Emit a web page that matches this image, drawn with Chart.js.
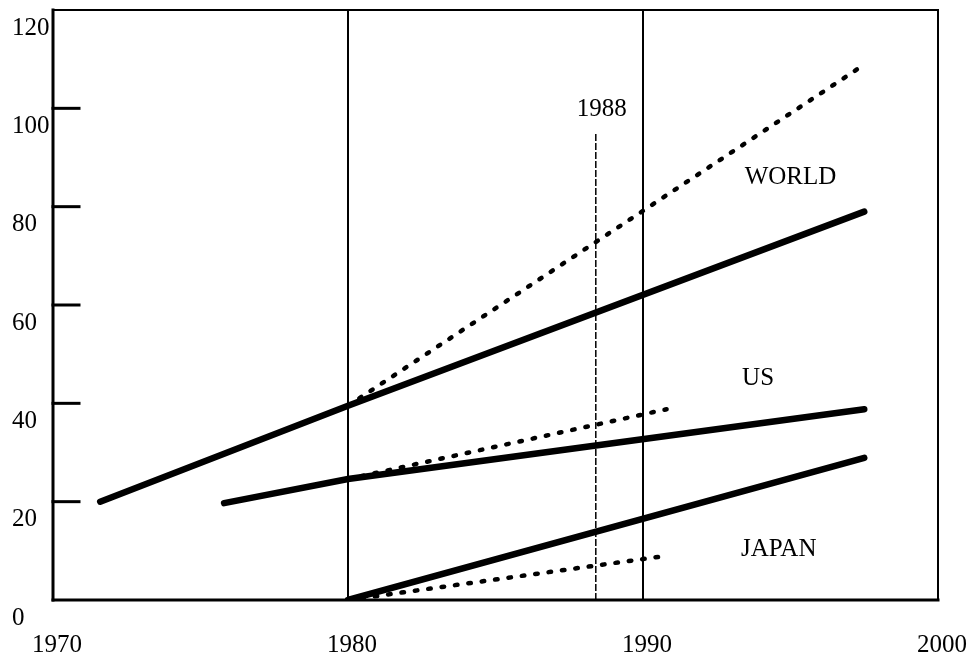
<!DOCTYPE html>
<html>
<head>
<meta charset="utf-8">
<script src="https://cdn.jsdelivr.net/npm/chart.js@4/dist/chart.umd.min.js"></script>
<style>
  html, body { margin: 0; padding: 0; background: #fff; }
  #wrap { width: 972px; height: 667px; }
</style>
</head>
<body>
<div id="wrap"><canvas id="chart"></canvas></div>
<script>
// values (x = year, y = index)
const worldYears = [1971.6, 1980, 1997.5];
const worldValues = [20, 39.5, 79];
const worldTrendYears = [1980, 1997.4];
const worldTrendValues = [39.5, 108.5];

const usYears = [1975.8, 1980, 1997.5];
const usValues = [19.7, 24.6, 38.8];
const usTrendYears = [1980, 1990.8];
const usTrendValues = [24.6, 38.8];

const japanYears = [1980, 1997.5];
const japanValues = [0, 28.9];
const japanTrendYears = [1980, 1990.8];
const japanTrendValues = [0, 9];

const markerYears = [1980, 1990];
const year1988 = 1988.4;
const year1988Top = 95;

const xTicks = [1970, 1980, 1990, 2000];
const yTicks = [0, 20, 40, 60, 80, 100, 120];

const textLabels = [
  { text: "WORLD", x: 1995.0, y: 86 },
  { text: "US", x: 1993.9, y: 45 },
  { text: "JAPAN", x: 1994.6, y: 10.2 },
  { text: "1988", x: 1988.6, y: 99.7 },
];

const FONT = "'Liberation Serif', 'Times New Roman', serif";

const toPoints = (xs, ys) => xs.map((x, i) => ({ x, y: ys[i] }));

const solid = (xs, ys) => ({
  data: toPoints(xs, ys),
  borderColor: "#000",
  borderWidth: 6.5,
  borderCapStyle: "round",
  pointRadius: 0,
  showLine: true,
});

const dotted = (xs, ys) => ({
  data: toPoints(xs, ys),
  borderColor: "#000",
  borderWidth: 4.5,
  borderDash: [2.5, 11],
  borderCapStyle: "round",
  pointRadius: 0,
  showLine: true,
});

const datasets = [
  ...markerYears.map((yr) => ({
    data: [{ x: yr, y: 0 }, { x: yr, y: 120 }],
    borderColor: "#000",
    borderWidth: 2,
    pointRadius: 0,
    showLine: true,
  })),
  {
    data: [{ x: year1988, y: 0 }, { x: year1988, y: year1988Top }],
    borderColor: "#000",
    borderWidth: 1.5,
    borderDash: [7, 2],
    pointRadius: 0,
    showLine: true,
  },
  dotted(worldTrendYears, worldTrendValues),
  dotted(usTrendYears, usTrendValues),
  dotted(japanTrendYears, japanTrendValues),
  solid(worldYears, worldValues),
  solid(usYears, usValues),
  solid(japanYears, japanValues),
];

// frame, inward y ticks and the text labels
const framePlugin = {
  id: "frame",
  afterDatasetsDraw(chart) {
    const { ctx, chartArea: a, scales } = chart;
    ctx.save();
    ctx.strokeStyle = "#000";
    ctx.lineCap = "square";
    const line = (x1, y1, x2, y2, w) => {
      ctx.lineWidth = w;
      ctx.beginPath();
      ctx.moveTo(x1, y1);
      ctx.lineTo(x2, y2);
      ctx.stroke();
    };
    line(a.left, a.top, a.right, a.top, 2);
    line(a.right, a.top, a.right, a.bottom, 2);
    line(a.left, a.top, a.left, a.bottom, 3);
    line(a.left, a.bottom, a.right, a.bottom, 3);
    yTicks.slice(1, -1).forEach((v) => {
      const py = scales.y.getPixelForValue(v);
      line(a.left, py, a.left + 26, py, 3);
    });
    ctx.fillStyle = "#000";
    ctx.font = "25px " + FONT;
    ctx.textAlign = "center";
    ctx.textBaseline = "middle";
    textLabels.forEach((l) => {
      ctx.fillText(l.text, scales.x.getPixelForValue(l.x), scales.y.getPixelForValue(l.y));
    });
    ctx.restore();
  },
};

const noPad = (s) => {
  s.paddingLeft = 0;
  s.paddingRight = 0;
  s.paddingTop = 0;
  s.paddingBottom = 0;
};

new Chart(document.getElementById("chart"), {
  type: "scatter",
  data: { datasets },
  options: {
    responsive: true,
    maintainAspectRatio: false,
    animation: false,
    layout: { padding: { top: 10, right: 34, left: 12, bottom: 0 } },
    plugins: { legend: { display: false }, tooltip: { enabled: false } },
    scales: {
      x: {
        type: "linear",
        min: 1970,
        max: 2000,
        afterBuildTicks: (s) => { s.ticks = xTicks.map((v) => ({ value: v })); },
        ticks: {
          color: "#000",
          font: { family: FONT, size: 25 },
          labelOffset: 4,
          padding: 22,
          maxRotation: 0,
          callback: (v) => String(v),
        },
        grid: { display: false },
        border: { display: false },
        afterFit: (s) => { s.height = 67; noPad(s); },
      },
      y: {
        min: 0,
        max: 120,
        afterBuildTicks: (s) => { s.ticks = yTicks.map((v) => ({ value: v })); },
        ticks: {
          color: "#000",
          font: { family: FONT, size: 25 },
          crossAlign: "far",
          labelOffset: 18,
          callback: (v) => String(v),
        },
        grid: { display: false },
        border: { display: false },
        afterFit: (s) => { s.width = 41; noPad(s); },
      },
    },
  },
  plugins: [framePlugin],
});
</script>
</body>
</html>
